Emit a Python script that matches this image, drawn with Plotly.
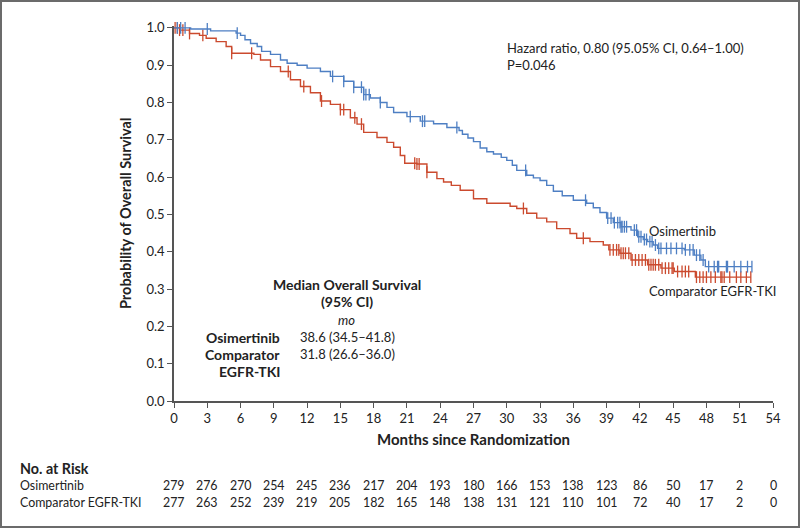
import numpy as np
import plotly.graph_objects as go

# ---------------- data ----------------
osi_t = [0, 1.5, 3.3, 5.6, 6.0, 6.4, 6.9, 7.5, 7.9, 8.7, 9.6, 10.2, 11.1, 12.0, 13.2, 14.1,
         15.3, 16.2, 17.1, 17.7, 18.6, 19.2, 19.8, 21.0, 22.2, 23.4, 24.6, 25.7, 26.0, 26.5,
         27.0, 27.6, 28.2, 28.8, 29.5, 30.0, 30.5, 30.9, 31.8, 32.4, 33.0, 33.6, 34.2, 35.0,
         36.0, 37.2, 37.8, 38.4, 39.0, 39.6, 40.3, 41.2, 41.8, 42.3, 42.7, 43.2, 43.6, 46.0,
         46.9, 47.5, 47.9, 52.1]
osi_s = [1.0, 0.997, 0.992, 0.986, 0.98, 0.968, 0.958, 0.95, 0.937, 0.929, 0.914, 0.905,
         0.9, 0.892, 0.883, 0.87, 0.857, 0.841, 0.821, 0.812, 0.8, 0.787, 0.773, 0.762, 0.75,
         0.743, 0.733, 0.725, 0.715, 0.705, 0.695, 0.678, 0.668, 0.662, 0.653, 0.645, 0.632,
         0.618, 0.605, 0.598, 0.591, 0.578, 0.562, 0.55, 0.538, 0.53, 0.518, 0.505, 0.49,
         0.478, 0.467, 0.458, 0.44, 0.433, 0.427, 0.418, 0.409, 0.405, 0.391, 0.378, 0.36, 0.36]
osi_cens = [0.3, 0.6, 1.0, 3.0, 5.7, 14.3, 15.3, 16.2, 16.9, 17.1, 17.3, 17.6, 18.6, 21.3,
            22.4, 22.6, 25.5, 31.7, 37.1, 39.1, 39.4, 39.7, 40.0, 40.2, 40.3, 40.4, 40.6,
            40.8, 41.5, 41.7, 41.9, 42.1, 42.4, 42.6, 42.9, 43.1, 43.4, 43.7, 43.9, 44.4,
            44.8, 45.3, 45.8, 46.1, 46.5, 46.8, 47.1, 47.4, 47.7, 48.2, 48.7, 49.0, 49.1,
            49.8, 49.9, 50.5, 51.1, 51.7, 52.1]

cmp_t = [0, 0.5, 1.4, 2.3, 2.9, 3.8, 4.7, 5.2, 7.2, 7.8, 8.7, 9.6, 10.5, 11.4, 12.3, 13.2,
         14.1, 15.0, 15.9, 16.5, 17.1, 18.3, 19.2, 19.8, 20.4, 20.8, 21.9, 22.8, 23.7, 24.3,
         25.0, 25.8, 27.0, 28.2, 30.3, 30.9, 31.8, 32.7, 33.6, 34.5, 35.7, 36.3, 37.5, 38.7,
         39.2, 40.2, 41.2, 42.7, 43.9, 45.1, 47.0, 52.0]
cmp_s = [1.0, 0.994, 0.985, 0.98, 0.972, 0.963, 0.95, 0.932, 0.929, 0.914, 0.896, 0.883,
         0.861, 0.843, 0.826, 0.804, 0.795, 0.781, 0.759, 0.742, 0.72, 0.706, 0.693, 0.68,
         0.658, 0.637, 0.635, 0.613, 0.596, 0.587, 0.578, 0.565, 0.542, 0.53, 0.522, 0.516,
         0.503, 0.49, 0.48, 0.462, 0.449, 0.436, 0.427, 0.418, 0.405, 0.396, 0.378, 0.365,
         0.356, 0.347, 0.332, 0.332]
cmp_cens = [0.1, 0.3, 0.5, 0.8, 1.4, 2.6, 5.2, 7.0, 10.3, 11.7, 13.3, 15.0, 15.3, 16.3,
            16.9, 21.7, 21.9, 22.1, 22.8, 31.5, 36.9, 39.3, 39.6, 39.9, 40.1, 40.3, 40.5,
            40.7, 41.0, 41.3, 41.6, 41.9, 42.2, 42.5, 42.8, 43.0, 43.2, 43.4, 43.7, 44.0,
            44.3, 44.6, 44.9, 45.0, 45.4, 45.8, 46.1, 46.4, 47.1, 47.4, 47.7, 48.0, 48.4,
            48.8, 49.3, 49.4, 49.6, 50.1, 50.7, 51.1, 51.6, 52.0]

risk_months = list(range(0, 55, 3))
risk_osi = [279, 276, 270, 254, 245, 236, 217, 204, 193, 180, 166, 153, 138, 123, 86, 50, 17, 2, 0]
risk_cmp = [277, 263, 252, 239, 219, 205, 182, 165, 148, 138, 131, 121, 110, 101, 72, 40, 17, 2, 0]

# ---------------- style ----------------
BLUE = "#4e7fc3"
RED = "#cb4a2e"
AX = "#555555"
TXT = "#222222"
FONT = "Lato"
W, H = 800, 528
L, R, T, B = 174, 27, 26, 127
PW, PH = W - L - R, H - T - B


def px(xp):
    return (xp - L) / PW


def py(yp):
    return (H - B - yp) / PH


def surv_at(times, surv, c):
    idx = np.searchsorted(np.array(times), np.array(c), side="right") - 1
    return np.array(surv)[idx]


fig = go.Figure()
for t, s, c, col in [(cmp_t, cmp_s, cmp_cens, RED), (osi_t, osi_s, osi_cens, BLUE)]:
    fig.add_trace(go.Scatter(x=t, y=s, mode="lines", line=dict(color=col, width=1.4, shape="hv"),
                             showlegend=False, hoverinfo="skip"))
    fig.add_trace(go.Scatter(x=c, y=surv_at(t, s, c), mode="markers",
                             marker=dict(symbol="line-ns-open", size=8.5, color=col,
                                         line=dict(color=col, width=1.3)),
                             showlegend=False, hoverinfo="skip", cliponaxis=False))

ann = []


def add(text, x, y, xanchor="left", size=13, bold=False, italic=False, **kw):
    if bold:
        text = "<b>" + text + "</b>"
    if italic:
        text = "<i>" + text + "</i>"
    ann.append(dict(text=text, x=x, y=y, xref="paper", yref="paper", xanchor=xanchor,
                    yanchor="middle", showarrow=False,
                    font=dict(family=FONT, size=size, color=TXT), **kw))


add("Hazard ratio, 0.80 (95.05% CI, 0.64\u20131.00)", px(505), py(48))
add("P=0.046", px(505), py(65))
add("Osimertinib", px(647), py(231))
add("Comparator EGFR-TKI", px(647), py(291))
add("Median Overall Survival", px(347), py(284), xanchor="center", bold=True, size=14)
add("(95% CI)", px(347), py(301), xanchor="center", bold=True, size=14)
add("mo", px(346), py(320), xanchor="center", italic=True)
add("Osimertinib", px(282), py(337), xanchor="right", bold=True, size=14)
add("Comparator", px(282), py(354), xanchor="right", bold=True, size=14)
add("EGFR-TKI", px(282), py(371), xanchor="right", bold=True, size=14)
add("38.6 (34.5\u201341.8)", px(298), py(337))
add("31.8 (26.6\u201336.0)", px(298), py(354))
add("Months since Randomization", px(473), py(439), xanchor="center", bold=True, size=15)
add("Probability of Overall Survival", px(125), py(214), xanchor="center", bold=True,
    size=14.5, textangle=-90)
add("No. at Risk", px(18), py(468), bold=True, size=14.3)
add("Osimertinib", px(18), py(485), size=12.4)
add("Comparator EGFR-TKI", px(18), py(502), size=12.4)

for m, a, b in zip(risk_months, risk_osi, risk_cmp):
    for v, yy in [(a, 485), (b, 502)]:
        ann.append(dict(text=str(v), x=m, y=py(yy), xref="x", yref="paper", xanchor="center",
                        yanchor="middle", showarrow=False,
                        font=dict(family=FONT, size=12.4, color=TXT)))

fig.update_layout(
    width=W, height=H, margin=dict(l=L, r=R, t=T, b=B),
    paper_bgcolor="white", plot_bgcolor="white",
    font=dict(family=FONT, size=13, color=TXT),
    annotations=ann,
    shapes=[dict(type="rect", xref="paper", yref="paper",
                 x0=px(1), x1=px(799), y0=py(527), y1=py(1),
                 line=dict(color="#6b6b6b", width=2), fillcolor="rgba(0,0,0,0)")],
)
fig.update_xaxes(range=[0, 54], tickmode="array", tickvals=risk_months,
                 showline=True, linecolor=AX, linewidth=1.5, ticks="outside", ticklen=5,
                 tickcolor=AX, tickwidth=1.2, showgrid=False, zeroline=False,
                 tickfont=dict(family=FONT, size=13, color=TXT))
fig.update_yaxes(range=[0, 1.005], tickmode="array", tickvals=[i / 10 for i in range(11)],
                 tickformat=".1f", showline=True, linecolor=AX, linewidth=1.5,
                 ticks="outside", ticklen=5, tickcolor=AX, tickwidth=1.2, showgrid=False,
                 zeroline=False, tickfont=dict(family=FONT, size=13, color=TXT))

fig.write_html("out.html", config={"displayModeBar": False},
               post_script="document.body.style.margin='0';document.body.style.overflow='hidden';")
